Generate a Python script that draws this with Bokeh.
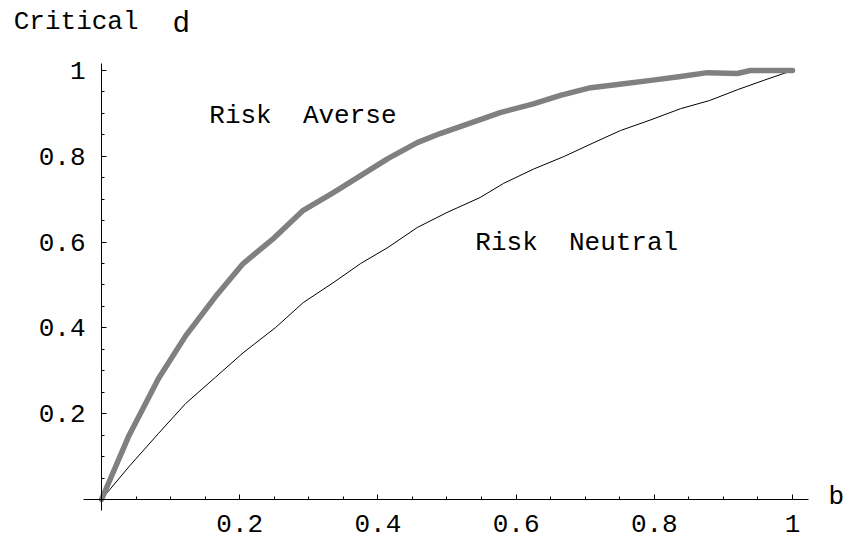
from bokeh.plotting import figure
from bokeh.models import FixedTicker, Label, Range1d
from bokeh.core.properties import value
from bokeh.embed import file_html
from bokeh.resources import INLINE

# Risk averse curve (thick gray)
averse_b = [0, 0.04, 0.0825, 0.122, 0.165, 0.205, 0.25, 0.292, 0.335, 0.375, 0.415,
            0.457, 0.49, 0.544, 0.577, 0.625, 0.664, 0.708, 0.75, 0.795, 0.838,
            0.877, 0.92, 0.939, 1.0]
averse_d = [0, 0.15, 0.282, 0.382, 0.473, 0.55, 0.61, 0.674, 0.715, 0.755, 0.795,
            0.832, 0.853, 0.883, 0.902, 0.922, 0.942, 0.960, 0.968, 0.977, 0.986,
            0.995, 0.993, 1.0, 1.0]

# Risk neutral curve (thin black)
neutral_b = [0, 0.04, 0.0825, 0.122, 0.165, 0.205, 0.252, 0.292, 0.335, 0.375, 0.415,
             0.457, 0.50, 0.548, 0.582, 0.625, 0.67, 0.71, 0.751, 0.795, 0.838,
             0.88, 0.92, 0.96, 1.0]
neutral_d = [0, 0.077, 0.154, 0.224, 0.285, 0.342, 0.401, 0.459, 0.505, 0.550, 0.588,
             0.634, 0.669, 0.704, 0.737, 0.77, 0.80, 0.83, 0.860, 0.885, 0.911,
             0.93, 0.955, 0.978, 1.0]

major_ticks = [0.2, 0.4, 0.6, 0.8, 1.0]
minor_ticks = [0.05, 0.1, 0.15, 0.25, 0.3, 0.35, 0.45, 0.5, 0.55, 0.65, 0.7, 0.75,
               0.85, 0.9, 0.95]
tick_labels = {0.2: "0.2", 0.4: "0.4", 0.6: "0.6", 0.8: "0.8", 1.0: "1"}

MONO = "Liberation Mono"
NBSP2 = "\u00a0\u00a0"

p = figure(width=845, height=536, output_backend="svg", toolbar_location=None,
           x_range=Range1d(-0.14616, 1.07670), y_range=Range1d(-0.08625, 1.16317),
           min_border=0, min_border_left=0, min_border_right=0,
           min_border_top=0, min_border_bottom=0)
p.outline_line_color = None
p.xgrid.visible = False
p.ygrid.visible = False
p.background_fill_color = "white"
p.border_fill_color = "white"

p.xaxis[0].bounds = (-0.026, 1.023)
p.yaxis[0].bounds = (-0.026, 1.016)
for ax in (p.xaxis[0], p.yaxis[0]):
    ax.fixed_location = 0
    ax.ticker = FixedTicker(ticks=major_ticks, minor_ticks=minor_ticks)
    ax.major_label_overrides = tick_labels
    ax.major_tick_in = 5
    ax.major_tick_out = 0
    ax.minor_tick_in = 3
    ax.minor_tick_out = 0
    ax.axis_line_color = "black"
    ax.major_tick_line_color = "black"
    ax.minor_tick_line_color = "black"
    ax.major_label_text_font = MONO
    ax.major_label_text_font_size = "26px"
    ax.major_label_text_color = "black"
p.xaxis[0].major_label_standoff = 16
p.yaxis[0].major_label_standoff = 16

p.line(neutral_b, neutral_d, line_color="black", line_width=1)
p.line(averse_b, averse_d, line_color="#808080", line_width=5.5,
       line_cap="round", line_join="round")

p.text(x=[0.156], y=[0.895], text=["Risk" + NBSP2 + "Averse"], text_font=value(MONO),
       text_font_size="26px", text_baseline="middle", text_align="left",
       text_color="black")
p.text(x=[0.541], y=[0.598], text=["Risk" + NBSP2 + "Neutral"], text_font=value(MONO),
       text_font_size="26px", text_baseline="middle", text_align="left",
       text_color="black")

p.add_layout(Label(x=-0.127, y=1.112, text="Critical", text_font=MONO,
                   text_font_size="26px", text_baseline="middle",
                   text_color="black"))
p.add_layout(Label(x=0.104, y=1.114, text="d", text_font="Liberation Sans",
                   text_font_size="29px", text_baseline="middle",
                   text_color="black"))
p.add_layout(Label(x=1.052, y=0.005, text="b", text_font=MONO,
                   text_font_size="26px", text_baseline="middle",
                   text_color="black"))

open("out.html", "w").write(file_html(p, INLINE))
